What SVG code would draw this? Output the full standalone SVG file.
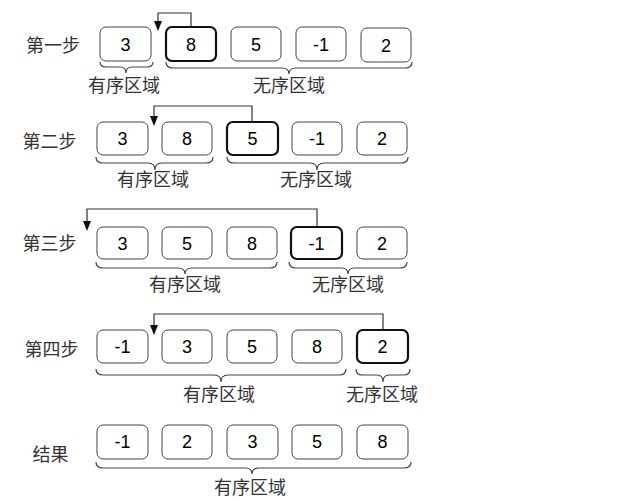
<svg xmlns="http://www.w3.org/2000/svg" width="631" height="501" viewBox="0 0 631 501">
<defs>
<style>
.b{fill:#fff;stroke:#444;stroke-width:1}
.bb{fill:#fff;stroke:#111;stroke-width:2.2}
.n{font-family:"Liberation Sans",Arial,sans-serif;font-size:18px;fill:#000;text-anchor:middle}
.c{font-family:"Noto Sans CJK SC",sans-serif;font-size:18px;fill:#333;text-anchor:middle;dominant-baseline:central}
.br{fill:none;stroke:#444;stroke-width:1.2}
.ar{fill:none;stroke:#333;stroke-width:1.2}
.ah{fill:#111}
</style>
</defs>
<rect width="631" height="501" fill="#fff"/>
<g id="connectors">
<path class="ar" d="M191,27 V13 H158 V22"/>
<path class="ar" d="M252,122 V106 H154 V117"/>
<path class="ar" d="M317,227 V209 H87 V222"/>
<path class="ar" d="M383,330 V314 H154 V326"/>
<path class="ah" d="M154,21 L162,21 L158,31 Z"/>
<path class="ah" d="M150,116 L158,116 L154,126 Z"/>
<path class="ah" d="M83,221 L91,221 L87,231 Z"/>
<path class="ah" d="M150,325 L158,325 L154,335 Z"/>
</g>
<g id="step1">
<text class="c" x="53" y="44">第一步</text>
<g id="s1n1"><rect class="b" x="100" y="27" width="51" height="34" rx="6"/><text class="n" x="125.5" y="50.5">3</text></g>
<g id="s1n2"><rect class="bb" x="166" y="27" width="50" height="34" rx="6"/><text class="n" x="191" y="50.5">8</text></g>
<g id="s1n3"><rect class="b" x="231" y="27" width="50" height="34" rx="6"/><text class="n" x="256" y="50.5">5</text></g>
<g id="s1n4"><rect class="b" x="296" y="27" width="50" height="34" rx="6"/><text class="n" x="321" y="50.5">-1</text></g>
<g id="s1n5"><rect class="b" x="361" y="28" width="50" height="34" rx="6"/><text class="n" x="386" y="51.5">2</text></g>
<path class="br" d="M100,62 Q100,67 106,67 L120,67 Q126,67 126,73 Q126,67 132,67 L147,67 Q153,67 153,62"/>
<text class="c" x="124" y="83.5">有序区域</text>
<path class="br" d="M166,62 Q166,68 173,68 L282,68 Q289,68 289,74 Q289,68 296,68 L405,68 Q412,68 412,62"/>
<text class="c" x="289" y="83.5">无序区域</text>
</g>
<g id="step2">
<text class="c" x="49.5" y="140">第二步</text>
<g id="s2n1"><rect class="b" x="97" y="122" width="51" height="33" rx="6"/><text class="n" x="122.5" y="145">3</text></g>
<g id="s2n2"><rect class="b" x="162" y="122" width="50" height="33" rx="6"/><text class="n" x="187" y="145">8</text></g>
<g id="s2n3"><rect class="bb" x="227" y="122" width="51" height="33" rx="6"/><text class="n" x="252.5" y="145">5</text></g>
<g id="s2n4"><rect class="b" x="292" y="122" width="50" height="33" rx="6"/><text class="n" x="317" y="145">-1</text></g>
<g id="s2n5"><rect class="b" x="357" y="122" width="50" height="33" rx="6"/><text class="n" x="382" y="145">2</text></g>
<path class="br" d="M96,157 Q96,163 103,163 L148,163 Q155,163 155,170 Q155,163 162,163 L206,163 Q213,163 213,157"/>
<text class="c" x="153" y="177.5">有序区域</text>
<path class="br" d="M227,157 Q227,163 234,163 L310,163 Q317,163 317,170 Q317,163 324,163 L401,163 Q408,163 408,157"/>
<text class="c" x="316" y="177.5">无序区域</text>
</g>
<g id="step3">
<text class="c" x="49.5" y="242">第三步</text>
<g id="s3n1"><rect class="b" x="97" y="227" width="51" height="32" rx="6"/><text class="n" x="122.5" y="249.5">3</text></g>
<g id="s3n2"><rect class="b" x="162" y="227" width="50" height="32" rx="6"/><text class="n" x="187" y="249.5">5</text></g>
<g id="s3n3"><rect class="b" x="227" y="227" width="50" height="32" rx="6"/><text class="n" x="252" y="249.5">8</text></g>
<g id="s3n4"><rect class="bb" x="291" y="227" width="51" height="32" rx="6"/><text class="n" x="316.5" y="249.5">-1</text></g>
<g id="s3n5"><rect class="b" x="357" y="227" width="50" height="32" rx="6"/><text class="n" x="382" y="249.5">2</text></g>
<path class="br" d="M96,262 Q96,268 103,268 L178,268 Q185,268 185,274 Q185,268 192,268 L270,268 Q277,268 277,262"/>
<text class="c" x="185" y="282.5">有序区域</text>
<path class="br" d="M289,262 Q289,268 296,268 L341,268 Q348,268 348,274 Q348,268 355,268 L400,268 Q407,268 407,262"/>
<text class="c" x="348" y="282.5">无序区域</text>
</g>
<g id="step4">
<text class="c" x="51.5" y="348">第四步</text>
<g id="s4n1"><rect class="b" x="97" y="330" width="51" height="33" rx="6"/><text class="n" x="122.5" y="353">-1</text></g>
<g id="s4n2"><rect class="b" x="162" y="330" width="50" height="33" rx="6"/><text class="n" x="187" y="353">3</text></g>
<g id="s4n3"><rect class="b" x="227" y="330" width="50" height="33" rx="6"/><text class="n" x="252" y="353">5</text></g>
<g id="s4n4"><rect class="b" x="292" y="330" width="50" height="33" rx="6"/><text class="n" x="317" y="353">8</text></g>
<g id="s4n5"><rect class="bb" x="357" y="330" width="51" height="33" rx="6"/><text class="n" x="382.5" y="353">2</text></g>
<path class="br" d="M96,369 Q96,375 103,375 L214,375 Q221,375 221,382 Q221,375 228,375 L339,375 Q346,375 346,369"/>
<text class="c" x="219" y="392.5">有序区域</text>
<path class="br" d="M356,369 Q356,375 362,375 L377,375 Q383,375 383,382 Q383,375 389,375 L404,375 Q410,375 410,369"/>
<text class="c" x="382" y="392.5">无序区域</text>
</g>
<g id="result">
<text class="c" x="50.5" y="453">结果</text>
<g id="rn1"><rect class="b" x="97" y="425" width="51" height="34" rx="6"/><text class="n" x="122.5" y="448">-1</text></g>
<g id="rn2"><rect class="b" x="162" y="425" width="50" height="34" rx="6"/><text class="n" x="187" y="448">2</text></g>
<g id="rn3"><rect class="b" x="227" y="425" width="51" height="34" rx="6"/><text class="n" x="252.5" y="448">3</text></g>
<g id="rn4"><rect class="b" x="292" y="425" width="50" height="34" rx="6"/><text class="n" x="317" y="448">5</text></g>
<g id="rn5"><rect class="b" x="357" y="425" width="51" height="34" rx="6"/><text class="n" x="382.5" y="448">8</text></g>
<path class="br" d="M96,462 Q96,468 103,468 L245,468 Q252,468 252,474 Q252,468 259,468 L404,468 Q411,468 411,462"/>
<text class="c" x="250" y="485.5">有序区域</text>
</g>
</svg>
